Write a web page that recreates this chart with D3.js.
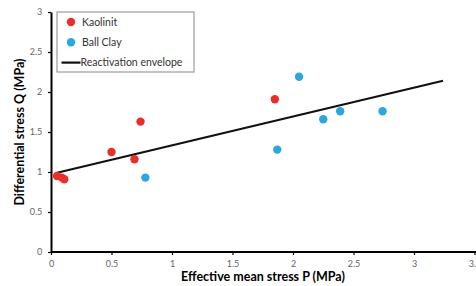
<!DOCTYPE html>
<html>
<head>
<meta charset="utf-8">
<script src="https://cdn.jsdelivr.net/npm/d3@7"></script>
<style>
  body { margin: 0; background: #fff; }
  text { font-family: Lato, "Open Sans", sans-serif; }
</style>
</head>
<body>
<div id="chart"></div>
<script>
// Data
const kaolinitP = [0.05, 0.09, 0.11, 0.50, 0.69, 0.74, 1.85];
const kaolinitQ = [0.95, 0.93, 0.91, 1.25, 1.16, 1.63, 1.91];
const ballClayP = [0.78, 1.87, 2.05, 2.25, 2.39, 2.74];
const ballClayQ = [0.93, 1.28, 2.19, 1.66, 1.76, 1.76];
// Reactivation envelope endpoints
const envelopeP = [0.05, 3.24];
const envelopeQ = [0.99, 2.14];
const xTicks = [0, 0.5, 1, 1.5, 2, 2.5, 3, 3.5];
const yTicks = [0, 0.5, 1, 1.5, 2, 2.5, 3];
const legendItems = ["Kaolinit", "Ball Clay", "Reactivation envelope"];

const width = 476, height = 286;
const margin = {top: 12, right: 2, bottom: 34, left: 51};

const svg = d3.select("#chart")
  .append("svg")
  .attr("width", width)
  .attr("height", height);

const x = d3.scaleLinear()
  .domain([0, 3.5])
  .range([margin.left, margin.left + 423.5]);

const y = d3.scaleLinear()
  .domain([0, 3])
  .range([height - margin.bottom, margin.top]);

const red = "#e8302b";
const blue = "#2ba6df";

// Axes
const xAxis = svg.append("g")
  .attr("transform", `translate(0,${y(0)})`)
  .call(d3.axisBottom(x).tickValues(xTicks).tickSize(3).tickSizeOuter(0).tickFormat(d3.format("")));

const yAxis = svg.append("g")
  .attr("transform", `translate(${x(0)},0)`)
  .call(d3.axisLeft(y).tickValues(yTicks).tickSize(3).tickSizeOuter(0).tickFormat(d3.format("")));

[xAxis, yAxis].forEach(g => {
  g.select(".domain").attr("stroke", "#000").attr("stroke-width", 2);
  g.selectAll(".tick line").attr("stroke", "#000").attr("stroke-width", 1.2);
  g.selectAll(".tick text")
    .attr("fill", "#666")
    .style("font-size", "9px")
    .style("font-family", "Lato, sans-serif");
});
xAxis.selectAll(".tick text").attr("dy", "0.95em");
yAxis.selectAll(".tick text").attr("dx", "-0.3em");
// first x tick label (0) sits under the origin, y "0" left
xAxis.select(".domain").attr("d", `M${x(0)},0H${width}`);

// Axis titles
svg.append("text")
  .attr("x", 263)
  .attr("y", 281)
  .attr("text-anchor", "middle")
  .style("font-size", "12.5px")
  .style("font-weight", "bold")
  .text("Effective mean stress P (MPa)");

svg.append("text")
  .attr("transform", `translate(24,${y(1.5)}) rotate(-90)`)
  .attr("text-anchor", "middle")
  .style("font-size", "12.5px")
  .style("font-weight", "bold")
  .text("Differential stress Q (MPa)");

// Envelope line
const line = d3.line()
  .x(d => x(d[0]))
  .y(d => y(d[1]));

svg.append("path")
  .datum(d3.zip(envelopeP, envelopeQ))
  .attr("d", line)
  .attr("fill", "none")
  .attr("stroke", "#111")
  .attr("stroke-width", 2.2);

// Points
svg.append("g")
  .selectAll("circle")
  .data(d3.zip(kaolinitP, kaolinitQ))
  .join("circle")
  .attr("cx", d => x(d[0]))
  .attr("cy", d => y(d[1]))
  .attr("r", 4.2)
  .attr("fill", red);

svg.append("g")
  .selectAll("circle")
  .data(d3.zip(ballClayP, ballClayQ))
  .join("circle")
  .attr("cx", d => x(d[0]))
  .attr("cy", d => y(d[1]))
  .attr("r", 4.2)
  .attr("fill", blue);

// Legend
const legend = svg.append("g")
  .attr("transform", "translate(57,12)");

legend.append("rect")
  .attr("width", 137)
  .attr("height", 60)
  .attr("fill", "#fff")
  .attr("stroke", "#a09a98")
  .attr("stroke-width", 1.2);

const legendRow = legend.selectAll("g")
  .data(legendItems)
  .join("g")
  .attr("transform", (_, i) => `translate(0,${10 + i * 20.3})`);

legendRow.filter((_, i) => i < 2)
  .append("circle")
  .attr("cx", 14)
  .attr("cy", 0)
  .attr("r", 4.2)
  .attr("fill", (_, i) => i === 0 ? red : blue);

legendRow.filter((_, i) => i === 2)
  .append("line")
  .attr("x1", 4.5)
  .attr("x2", 23.5)
  .attr("stroke", "#111")
  .attr("stroke-width", 2.2);

legendRow.append("text")
  .attr("x", (_, i) => i === 2 ? 23.5 : 25)
  .attr("y", 3.5)
  .style("font-size", "10.5px")
  .attr("fill", "#333")
  .text(d => d);
</script>
</body>
</html>
